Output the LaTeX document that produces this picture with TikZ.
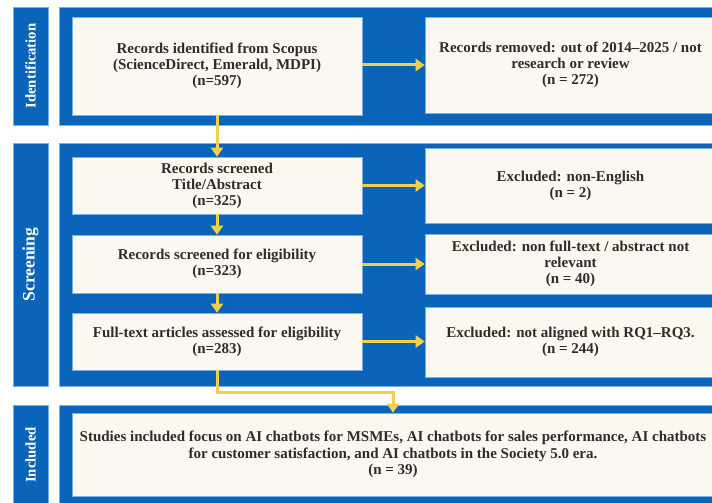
\documentclass[tikz,border=0pt]{standalone}
\usepackage{fontspec}
\setmainfont{Liberation Serif}
\usetikzlibrary{arrows.meta}
\definecolor{frameblue}{RGB}{10,100,185}
\definecolor{edgeblue}{RGB}{120,175,230}
\definecolor{cream}{RGB}{250,248,240}
\definecolor{arrowyellow}{RGB}{242,208,75}
\definecolor{txt}{RGB}{45,45,45}
\begin{document}
\begin{tikzpicture}[x=1pt,y=-1pt,
  frame/.style={fill=frameblue,draw=edgeblue,line width=0.8pt},
  stagebar/.style={fill=frameblue,draw=edgeblue,line width=0.8pt,rotate=90,text=white,inner sep=0pt,font=\bfseries\fontsize{14.7}{17}\selectfont},
  box/.style={fill=cream,draw=edgeblue,line width=0.6pt,inner sep=0pt,text=txt,align=center,font=\bfseries\fontsize{15}{16}\selectfont},
  flow/.style={draw=arrowyellow,line width=3pt,-{Triangle[width=12pt,length=9pt]}}
]
\useasboundingbox (0,0) rectangle (712,503);
\clip (0,0) rectangle (712,503);
\fill[white] (0,0) rectangle (712,503);
% frames
\draw[frame] (59,7) rectangle (740,125);
\draw[frame] (59,143) rectangle (740,386);
\draw[frame] (59,405) rectangle (740,515);
% stage labels
\node[stagebar,minimum width=118pt,minimum height=35pt] (lid) at (30.5,66) {Identification};
\node[stagebar,minimum width=243pt,minimum height=35pt,font=\bfseries\fontsize{17.5}{20}\selectfont] (lsc) at (30.5,264.5) {Screening};
\node[stagebar,minimum width=100pt,minimum height=35pt] (lin) at (30.5,455) {Included};
% boxes
\node[box,minimum width=290pt,minimum height=98pt] (a) at (217,66) {Records identified from Scopus\\(ScienceDirect, Emerald, MDPI)\\(n=597)};
\node[box,minimum width=291pt,minimum height=96pt] (b) at (570.5,65) {Records removed: out of 2014--2025 / not\\research or review\\(n = 272)};
\node[box,minimum width=290pt,minimum height=57pt] (c) at (217,185.5) {Records screened\\Title/Abstract\\(n=325)};
\node[box,minimum width=290pt,minimum height=58pt] (d) at (217,264) {Records screened for eligibility\\(n=323)};
\node[box,minimum width=290pt,minimum height=57pt] (e) at (217,341.5) {Full-text articles assessed for eligibility\\(n=283)};
\node[box,minimum width=291pt,minimum height=75pt] (f) at (570.5,185.5) {Excluded: non-English\\(n = 2)};
\node[box,minimum width=291pt,minimum height=60pt] (g) at (570.5,264) {Excluded: non full-text / abstract not\\relevant\\(n = 40)};
\node[box,minimum width=291pt,minimum height=70pt] (h) at (570.5,342) {Excluded: not aligned with RQ1--RQ3.\\(n = 244)};
\node[box,minimum width=642pt,minimum height=83pt,font=\bfseries\fontsize{15}{16.5}\selectfont] (i) at (393,454.5) {Studies included focus on AI chatbots for MSMEs, AI chatbots for sales performance, AI chatbots\\for customer satisfaction, and AI chatbots in the Society 5.0 era.\\(n = 39)};
% connectors
\draw[flow] (a.east |- b.west) -- (b.west);
\draw[flow] (c.east) -- (c.east -| f.west);
\draw[flow] (d.east) -- (d.east -| g.west);
\draw[flow] (e.east) -- (e.east -| h.west);
\draw[flow] (a.south) -- (c.north);
\draw[flow] (c.south) -- (d.north);
\draw[flow] (d.south) -- (e.north);
\draw[flow] (e.south) -- ++(0,22) -| (i.north);
\end{tikzpicture}
\end{document}
